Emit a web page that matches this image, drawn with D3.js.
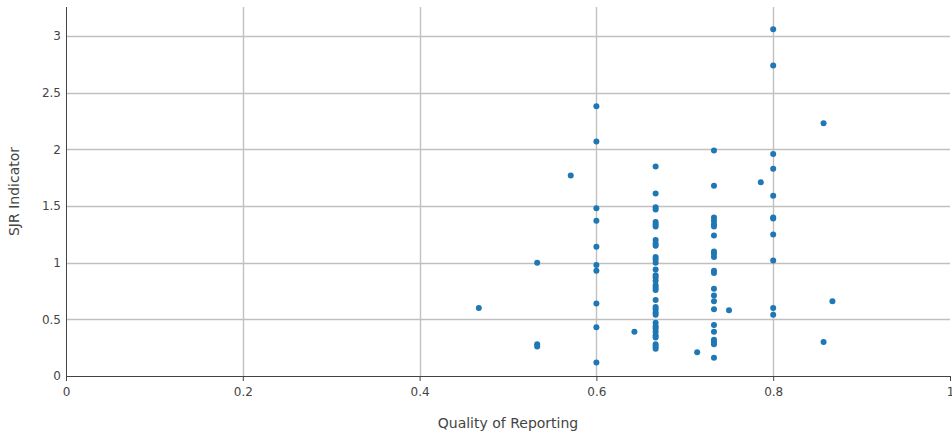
<!DOCTYPE html>
<html>
<head>
<meta charset="utf-8">
<script src="https://cdn.jsdelivr.net/npm/d3@7/dist/d3.min.js"></script>
<style>
  html, body { margin: 0; padding: 0; background: #fff; }
  svg { display: block; font-family: "DejaVu Sans", Verdana, sans-serif; }
</style>
</head>
<body>
<svg id="chart" width="952" height="438"></svg>
<script>
// Quality of Reporting score for each journal
const quality = [
  0.467,
  0.533, 0.533, 0.533,
  0.571,
  0.6, 0.6, 0.6, 0.6, 0.6, 0.6, 0.6, 0.6, 0.6, 0.6,
  0.643,
  0.667, 0.667, 0.667, 0.667, 0.667, 0.667, 0.667, 0.667, 0.667, 0.667,
  0.667, 0.667, 0.667, 0.667, 0.667, 0.667, 0.667, 0.667, 0.667, 0.667,
  0.667, 0.667, 0.667, 0.667, 0.667, 0.667, 0.667, 0.667, 0.667, 0.667,
  0.667, 0.667, 0.667, 0.667,
  0.714,
  0.733, 0.733, 0.733, 0.733, 0.733, 0.733, 0.733, 0.733, 0.733, 0.733, 0.733,
  0.733, 0.733, 0.733, 0.733, 0.733, 0.733, 0.733, 0.733, 0.733, 0.733, 0.733,
  0.75,
  0.786,
  0.8, 0.8, 0.8, 0.8, 0.8, 0.8, 0.8, 0.8, 0.8, 0.8, 0.8,
  0.857, 0.857,
  0.867
];

// SJR Indicator of the same journals
const sjr = [
  0.60,
  1.00, 0.28, 0.26,
  1.77,
  2.38, 2.07, 1.48, 1.37, 1.14, 0.98, 0.93, 0.64, 0.43, 0.12,
  0.39,
  1.85, 1.61, 1.49, 1.47, 1.36, 1.34, 1.32, 1.20, 1.17, 1.15,
  1.05, 1.03, 1.00, 0.94, 0.89, 0.87, 0.84, 0.80, 0.78, 0.76,
  0.67, 0.61, 0.59, 0.56, 0.54, 0.47, 0.44, 0.42, 0.39, 0.36,
  0.34, 0.28, 0.26, 0.24,
  0.21,
  1.99, 1.68, 1.40, 1.37, 1.34, 1.32, 1.24, 1.10, 1.08, 1.05, 0.93,
  0.91, 0.77, 0.71, 0.66, 0.59, 0.45, 0.39, 0.32, 0.30, 0.28, 0.16,
  0.58,
  1.71,
  3.06, 2.74, 1.96, 1.83, 1.59, 1.40, 1.39, 1.25, 1.02, 0.60, 0.54,
  2.23, 0.30,
  0.66
];

const xTicks = [0, 0.2, 0.4, 0.6, 0.8, 1];
const yTicks = [0, 0.5, 1, 1.5, 2, 2.5, 3];
const xTitle = "Quality of Reporting";
const yTitle = "SJR Indicator";

const svg = d3.select("#chart");
const plotLeft = 66, plotRight = 950, plotTop = 7, plotBottom = 376;

const x = d3.scaleLinear().domain([0, 1]).range([plotLeft, plotRight]);
const y = d3.scaleLinear().domain([0, 3.257]).range([plotBottom, plotTop]);

// grid lines
const grid = svg.append("g");
grid.selectAll("line.gy")
  .data(yTicks.filter(d => d > 0))
  .join("line")
  .attr("x1", plotLeft).attr("x2", plotRight)
  .attr("y1", d => Math.round(y(d)) + 0.5).attr("y2", d => Math.round(y(d)) + 0.5)
  .attr("stroke", "#c0c0c0").attr("stroke-width", 1.4);
grid.selectAll("line.gx")
  .data(xTicks.filter(d => d > 0 && d < 1))
  .join("line")
  .attr("y1", plotTop).attr("y2", plotBottom)
  .attr("x1", d => Math.round(x(d)) + 0.5).attr("x2", d => Math.round(x(d)) + 0.5)
  .attr("stroke", "#c0c0c0").attr("stroke-width", 1.4);

// x axis
const xAxis = d3.axisBottom(x).tickValues(xTicks).tickSize(5).tickPadding(6)
  .tickFormat(d3.format("~g"));
const gx = svg.append("g").attr("transform", `translate(0,${plotBottom})`).call(xAxis);
gx.select(".domain").attr("stroke", "#444").attr("d", `M${plotLeft},0.5H${plotRight}`);
gx.selectAll(".tick line").attr("stroke", "#444");
gx.selectAll("text").attr("fill", "#444").attr("font-size", 12)
  .attr("font-family", "DejaVu Sans, Verdana, sans-serif");

// y axis
const yAxis = d3.axisLeft(y).tickValues(yTicks).tickSize(0).tickPadding(5)
  .tickFormat(d3.format("~g"));
const gy = svg.append("g").attr("transform", `translate(${plotLeft},0)`).call(yAxis);
gy.select(".domain").attr("stroke", "#444").attr("d", `M0.5,${plotTop}V${plotBottom}`);
gy.selectAll("text").attr("fill", "#444").attr("font-size", 12)
  .attr("font-family", "DejaVu Sans, Verdana, sans-serif");

// axis titles
svg.append("text")
  .attr("x", (plotLeft + plotRight) / 2).attr("y", 428)
  .attr("text-anchor", "middle").attr("fill", "#444").attr("font-size", 14)
  .text(xTitle);
svg.append("text")
  .attr("transform", `translate(19,${(plotTop + plotBottom) / 2}) rotate(-90)`)
  .attr("text-anchor", "middle").attr("fill", "#444").attr("font-size", 14)
  .text(yTitle);

// points
svg.append("g").selectAll("circle")
  .data(quality.map((q, i) => ({ q, s: sjr[i] })))
  .join("circle")
  .attr("cx", d => x(d.q))
  .attr("cy", d => y(d.s))
  .attr("r", 3)
  .attr("fill", "#1f77b4");
</script>
</body>
</html>
